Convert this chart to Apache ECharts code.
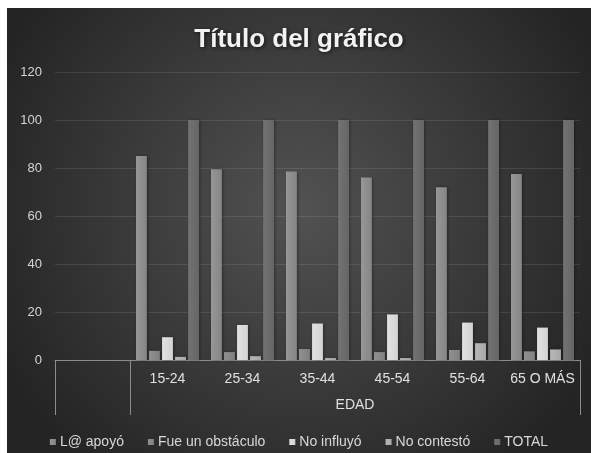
<!DOCTYPE html>
<html>
<head>
<meta charset="utf-8">
<script src="https://cdn.jsdelivr.net/npm/echarts@6/dist/echarts.min.js"></script>
<style>
  html, body { margin: 0; padding: 0; background: #ffffff; width: 591px; height: 453px; overflow: hidden; }
  #chart { position: absolute; left: 7px; top: 8px; width: 584px; height: 445px; }
</style>
</head>
<body>
<div id="chart"></div>
<script>
const categories = ['', '15-24', '25-34', '35-44', '45-54', '55-64', '65 O MÁS'];
const seriesNames = ['L@ apoyó', 'Fue un obstáculo', 'No influyó', 'No contestó', 'TOTAL'];
const apoyo      = [null, 85, 79.5, 78.5, 76, 72, 77.5];
const obstaculo  = [null, 3.8, 3.3, 4.6, 3.3, 4.2, 3.6];
const noInfluyo  = [null, 9.5, 14.6, 15.2, 19, 15.6, 13.5];
const noContesto = [null, 1.3, 1.6, 0.8, 0.8, 7, 4.4];
const total      = [null, 100, 100, 100, 100, 100, 100];
const yTicks = [0, 20, 40, 60, 80, 100, 120];
const axisTitle = 'EDAD';
const chartTitle = 'Título del gráfico';

const FONT = "'Liberation Sans', Arial, sans-serif";
const values = [apoyo, obstaculo, noInfluyo, noContesto, total];
const barColors = [
  ['#979797', '#858585'],
  ['#909090', '#808080'],
  ['#e2e2e2', '#d2d2d2'],
  ['#b8b8b8', '#a8a8a8'],
  ['#737373', '#656565']
];

const chart = echarts.init(document.getElementById('chart'), null, { renderer: 'canvas' });

const series = seriesNames.map((name, i) => ({
  name: name,
  type: 'bar',
  data: values[i],
  barGap: '20%',
  barCategoryGap: '16%',
  itemStyle: {
    color: {
      type: 'linear', x: 0, y: 0, x2: 1, y2: 0,
      colorStops: [
        { offset: 0, color: barColors[i][0] },
        { offset: 1, color: barColors[i][1] }
      ]
    },
    shadowColor: 'rgba(0,0,0,0.35)',
    shadowBlur: 3,
    shadowOffsetX: 1
  },
  emphasis: { disabled: true }
}));

chart.setOption({
  animation: false,
  backgroundColor: {
    type: 'radial', x: 0.5, y: 0.45, r: 0.75,
    colorStops: [
      { offset: 0, color: '#525252' },
      { offset: 1, color: '#242424' }
    ]
  },
  title: {
    text: chartTitle,
    left: 'center',
    top: 14,
    textStyle: {
      color: '#f2f2f2',
      fontFamily: FONT,
      fontWeight: 'bold',
      fontSize: 26,
      textShadowColor: 'rgba(0,0,0,0.7)',
      textShadowBlur: 4,
      textShadowOffsetX: 1,
      textShadowOffsetY: 1
    }
  },
  legend: {
    data: seriesNames,
    top: 422,
    left: 'center',
    itemWidth: 6,
    itemHeight: 6,
    itemGap: 24,
    icon: 'rect',
    textStyle: {
      color: '#d8d8d8',
      fontFamily: FONT,
      fontSize: 14,
      padding: [0, 0, 0, -1]
    }
  },
  grid: { left: 48, right: 11, top: 64, bottom: 93, containLabel: false },
  xAxis: {
    type: 'category',
    data: categories,
    boundaryGap: true,
    axisLine: { show: true, lineStyle: { color: '#8c8c8c', width: 1 } },
    axisTick: {
      show: true,
      interval: function (index) { return index === 0 || index === 1; },
      length: 55,
      lineStyle: { color: '#8c8c8c', width: 1 }
    },
    axisLabel: {
      color: '#e0e0e0',
      fontFamily: FONT,
      fontSize: 14,
      margin: 12,
      interval: 0
    },
    name: axisTitle,
    nameLocation: 'middle',
    nameGap: 38,
    nameTextStyle: {
      color: '#e0e0e0',
      fontFamily: FONT,
      fontSize: 14,
      padding: [0, 0, 0, 75]
    },
    splitLine: { show: false }
  },
  yAxis: {
    type: 'value',
    min: yTicks[0],
    max: yTicks[yTicks.length - 1],
    interval: yTicks[1] - yTicks[0],
    axisLine: { show: false },
    axisTick: { show: false },
    axisLabel: {
      color: '#d4d4d4',
      fontFamily: FONT,
      fontSize: 13,
      margin: 13
    },
    splitLine: { lineStyle: { color: 'rgba(255,255,255,0.10)', width: 1 } }
  },
  series: series
});
</script>
</body>
</html>
